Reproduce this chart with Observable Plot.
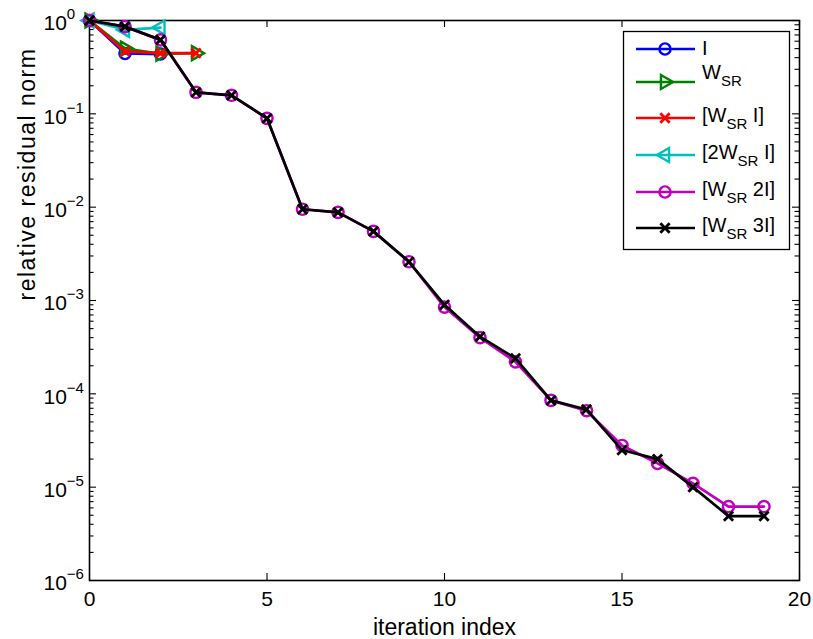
<!DOCTYPE html>
<html><head><meta charset="utf-8">
<script src="https://cdn.jsdelivr.net/npm/d3@7"></script>
<script src="https://cdn.jsdelivr.net/npm/@observablehq/plot@0.6"></script>
<style>
body{margin:0;background:#fff}
#wrap{position:relative;width:813px;height:639px}
#legend{position:absolute;left:0;top:0}
</style>
</head><body><div id="wrap"></div>
<script>
// ---- data ----
const seriesNames = ["I", "W_SR", "[W_SR I]", "[2W_SR I]", "[W_SR 2I]", "[W_SR 3I]"];
const I_vals      = [1, 0.443, 0.437];
const WSR_vals    = [1, 0.50, 0.44, 0.447];
const WSR_I_vals  = [1, 0.466, 0.447, 0.447];
const twoWSR_I_vals = [1, 0.795, 0.84];
const WSR_2I_vals = [1, 0.86, 0.62, 0.17, 0.158, 0.0895, 0.0095, 0.0088, 0.0055, 0.0026,
                     0.00085, 0.00040, 0.00022, 8.5e-5, 6.6e-5, 2.8e-5, 1.8e-5, 1.1e-5, 6.2e-6, 6.2e-6];
const WSR_3I_vals = [1, 0.86, 0.62, 0.17, 0.158, 0.0895, 0.0095, 0.0088, 0.0055, 0.0026,
                     0.00090, 0.00041, 0.00024, 8.5e-5, 6.8e-5, 2.5e-5, 2.0e-5, 1.0e-5, 4.9e-6, 4.9e-6];
const xTicks = [0, 5, 10, 15, 20];
const yExponents = [0, -1, -2, -3, -4, -5, -6];
const xLabel = "iteration index";
const yLabel = "relative residual norm";

// ---- styles ----
const seriesValues = [I_vals, WSR_vals, WSR_I_vals, twoWSR_I_vals, WSR_2I_vals, WSR_3I_vals];
const styles = [
  {color: "#0000ff", symbol: "circle", r: 5.6, rotate: 0, sw: 2.4},
  {color: "#008000", symbol: "triangle", r: 5.2, rotate: 90, sw: 2.4},
  {color: "#ff0000", symbol: "times", r: 4.3, rotate: 0, sw: 2.8},
  {color: "#00bfbf", symbol: "triangle", r: 5.2, rotate: -90, sw: 2.4},
  {color: "#bf00bf", symbol: "circle", r: 5.6, rotate: 0, sw: 2.4},
  {color: "#000000", symbol: "times", r: 4.3, rotate: 0, sw: 2.8}
];

const W = 813, H = 639;
const mL = 89, mR = 14, mT = 20, mB = 59;
const fw = W - mL - mR, fh = H - mT - mB;
const majorY = yExponents.map(e => Math.pow(10, e));
const minorY = [];
for (let e = -6; e < 0; e++) for (let k = 2; k <= 9; k++) minorY.push(k * Math.pow(10, e));

const marks = [];
seriesValues.forEach((vals, i) => {
  const data = vals.map((v, j) => ({x: j, y: v}));
  const s = styles[i];
  marks.push(Plot.line(data, {x: "x", y: "y", stroke: s.color, strokeWidth: 2.7}));
  marks.push(Plot.dot(data, {x: "x", y: "y", stroke: s.color, fill: "none", symbol: s.symbol, r: s.r, rotate: s.rotate, strokeWidth: s.sw}));
});

const tickStroke = {stroke: "#000", strokeWidth: 1.1};
const plot = Plot.plot({
  width: W, height: H,
  marginLeft: mL, marginRight: mR, marginTop: mT, marginBottom: mB,
  style: {fontFamily: "'Liberation Sans', Arial, sans-serif", fontSize: "20px", background: "#fff", color: "#000"},
  x: {domain: [0, 20]},
  y: {type: "log", domain: [1e-6, 1]},
  marks: [
    // inward ticks
    Plot.tickY(majorY, {y: d => d, insetRight: fw - 7, ...tickStroke}),
    Plot.tickY(majorY, {y: d => d, insetLeft: fw - 7, ...tickStroke}),
    Plot.tickY(minorY, {y: d => d, insetRight: fw - 4.5, ...tickStroke}),
    Plot.tickY(minorY, {y: d => d, insetLeft: fw - 4.5, ...tickStroke}),
    Plot.tickX(xTicks, {x: d => d, insetTop: fh - 7, ...tickStroke}),
    Plot.tickX(xTicks, {x: d => d, insetBottom: fh - 7, ...tickStroke}),
    // tick labels
    Plot.axisX({anchor: "bottom", ticks: xTicks, tickSize: 0, tickPadding: 11, label: null, fontSize: 21}),
    Plot.axisY({anchor: "left", ticks: majorY, tickSize: 0, tickPadding: 46, textAnchor: "start", dy: 3,
      tickFormat: d => "10^" + Math.round(Math.log10(d)), label: null, fontSize: 21}),
    Plot.text([xLabel], {text: d => d, frameAnchor: "bottom", lineAnchor: "bottom", dy: 54, fontSize: 23}),
    Plot.text([yLabel], {text: d => d, frameAnchor: "left", rotate: -90, dx: -62, dy: 0, fontSize: 23}),
    Plot.frame({stroke: "#000", strokeWidth: 1.6}),
    ...marks
  ]
});

const wrap = document.getElementById("wrap");
wrap.appendChild(plot);

// superscript exponents on y tick labels
d3.select(plot).selectAll('g[aria-label="y-axis tick label"] text').each(function() {
  const t = this.textContent;
  const e = parseInt(t.split("^")[1], 10);
  const sel = d3.select(this);
  sel.text(null);
  sel.append("tspan").text("10");
  sel.append("tspan").attr("dy", -11).attr("font-size", 15).text(e === 0 ? "0" : "\u2212" + Math.abs(e));
});
// letter spacing for y label
d3.select(plot).selectAll("text").filter(function(){ return this.textContent === yLabel; })
  .attr("letter-spacing", "1.5px");

// ---- legend overlay ----
const legendParts = [
  [["I", false]],
  [["W", false], ["SR", true]],
  [["[W", false], ["SR", true], [" I]", false]],
  [["[2W", false], ["SR", true], [" I]", false]],
  [["[W", false], ["SR", true], [" 2I]", false]],
  [["[W", false], ["SR", true], [" 3I]", false]]
];
const legendRows = [49, 82, 118, 155, 192, 228];
const legendBaseline = [6, -3, 4, 4, 4, 4];
const lg = d3.select(wrap).append("svg").attr("id", "legend").attr("width", W).attr("height", H)
  .style("font-family", "'Liberation Sans', Arial, sans-serif");
lg.append("rect").attr("x", 623.5).attr("y", 31.5).attr("width", 166).attr("height", 218)
  .attr("fill", "#fff").attr("stroke", "#000").attr("stroke-width", 1.3);
const symMap = {circle: d3.symbolCircle, triangle: d3.symbolTriangle, times: d3.symbolTimes};
styles.forEach((s, i) => {
  const y = legendRows[i];
  lg.append("line").attr("x1", 636).attr("x2", 695).attr("y1", y).attr("y2", y)
    .attr("stroke", s.color).attr("stroke-width", 2.7);
  lg.append("path").attr("d", d3.symbol(symMap[s.symbol], s.r * s.r * Math.PI)())
    .attr("transform", `translate(665,${y}) rotate(${s.rotate})`)
    .attr("fill", "none").attr("stroke", s.color).attr("stroke-width", s.sw);
  const t = lg.append("text").attr("x", 702).attr("y", y + legendBaseline[i]).attr("font-size", 20).attr("fill", "#000");
  let shifted = false;
  legendParts[i].forEach(([txt, sub]) => {
    const ts = t.append("tspan").text(txt).style("white-space", "pre");
    if (sub && !shifted) { ts.attr("dy", 7).attr("font-size", 15); shifted = true; }
    else if (!sub && shifted) { ts.attr("dy", -7); shifted = false; }
  });
});
</script>
</body></html>
